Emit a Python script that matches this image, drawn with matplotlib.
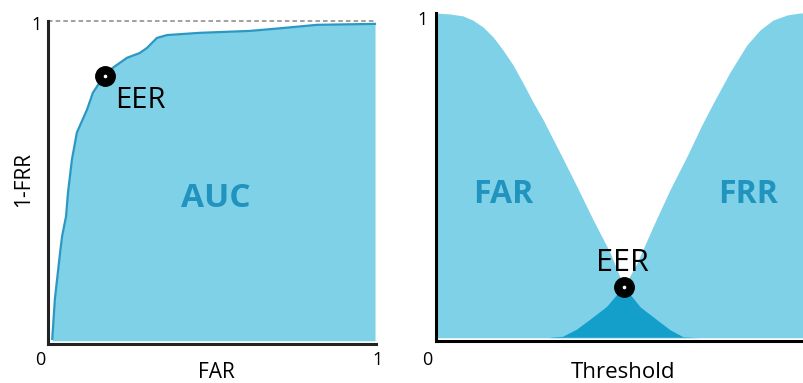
import matplotlib.pyplot as plt

plt.rcParams['font.family'] = ['Open Sans', 'DejaVu Sans']

# left panel: ROC curve, FAR vs 1-FRR
roc_far = [0.013, 0.021, 0.037, 0.043, 0.055, 0.061, 0.073, 0.088, 0.119, 0.137, 0.159, 0.174,
           0.198, 0.241, 0.280, 0.302, 0.332, 0.363, 0.463, 0.616, 0.716, 0.820, 0.997]
roc_tpr = [0.006, 0.131, 0.277, 0.327, 0.389, 0.464, 0.567, 0.651, 0.723, 0.776, 0.810, 0.829,
           0.854, 0.885, 0.900, 0.916, 0.947, 0.956, 0.963, 0.969, 0.978, 0.988, 0.991]
roc_eer = (0.174, 0.829)

# right panel: FAR and FRR against threshold
far_x = [0.0, 0.037, 0.072, 0.098, 0.125, 0.152, 0.178, 0.205, 0.231, 0.258, 0.285, 0.330,
         0.375, 0.418, 0.463, 0.489, 0.5, 0.543, 0.588, 0.622, 0.657, 0.70, 1.0]
far_y = [1.0, 0.997, 0.991, 0.978, 0.957, 0.926, 0.886, 0.840, 0.785, 0.726, 0.671, 0.569,
         0.465, 0.363, 0.262, 0.188, 0.157, 0.095, 0.055, 0.025, 0.003, 0.0, 0.0]
frr_x = [0.0, 0.30, 0.338, 0.375, 0.410, 0.455, 0.5, 0.535, 0.577, 0.622, 0.668,
         0.707, 0.737, 0.782, 0.827, 0.862, 0.896, 0.934, 0.968, 1.0]
frr_y = [0.0, 0.0, 0.003, 0.025, 0.055, 0.095, 0.157, 0.231, 0.342, 0.455, 0.560,
         0.655, 0.722, 0.818, 0.902, 0.948, 0.978, 0.994, 1.0, 1.0]
eer = (0.5, 0.157)

light = '#7ed1e6'
line_c = '#2a98c2'
dark = '#139fca'
lab_c = '#2193bf'

fig = plt.figure(figsize=(8.04, 3.83), dpi=100)

# ---- ROC ----
ax1 = fig.add_axes([48/804, 39/383, 328/804, 323/383])
ax1.fill_between(roc_far, roc_tpr, color=light, lw=0)
ax1.plot(roc_far, roc_tpr, color=line_c, lw=1.6)
ax1.plot([0, 1], [1, 1], ls=(0, (3, 2)), color='#888888', lw=1.1, clip_on=False)
ax1.plot(*roc_eer, 'o', ms=14, color='black', zorder=5)
ax1.plot(*roc_eer, 'o', ms=1.6, color='white', zorder=6)
ax1.set_xlim(0, 1)
ax1.set_ylim(-0.01, 1)
ax1.text(0.204, 0.728, 'EER', fontsize=21, va='baseline', ha='left')
ax1.text(0.512, 0.418, 'AUC', fontsize=24, fontweight='bold', color=lab_c, ha='center', va='baseline')
ax1.text(-0.034, 0.972, '1', fontsize=13, ha='center', va='baseline')
ax1.text(-0.024, -0.076, '0', fontsize=13, ha='center', va='baseline')
ax1.text(1.006, -0.076, '1', fontsize=13, ha='center', va='baseline')
ax1.text(0.512, -0.116, 'FAR', fontsize=15, ha='center', va='baseline')
ax1.text(-0.076, 0.503, '1-FRR', fontsize=15, ha='center', va='center', rotation=90)

# ---- FAR / FRR ----
ax2 = fig.add_axes([436/804, 42/383, 376/804, 328/383])
ax2.fill_between(far_x, far_y, color=light, lw=0)
frr_fill = ax2.fill_between(frr_x, frr_y, color=light, lw=0)
# overlap of the two areas in the darker blue
overlap = ax2.fill_between(far_x, far_y, color=dark, lw=0)
overlap.set_clip_path(frr_fill.get_paths()[0], ax2.transData)
ax2.plot(*eer, 'o', ms=14, color='black', zorder=5)
ax2.plot(*eer, 'o', ms=1.6, color='white', zorder=6)
ax2.set_xlim(0, 1)
ax2.set_ylim(-0.01, 1)
ax2.text(0.497, 0.206, 'EER', fontsize=22, ha='center', va='baseline')
ax2.text(0.178, 0.415, 'FAR', fontsize=23, fontweight='bold', color=lab_c, ha='center', va='baseline')
ax2.text(0.83, 0.415, 'FRR', fontsize=23, fontweight='bold', color=lab_c, ha='center', va='baseline')
ax2.text(-0.035, 0.963, '1', fontsize=13, ha='center', va='baseline')
ax2.text(-0.024, -0.084, '0', fontsize=13, ha='center', va='baseline')
ax2.text(0.497, -0.124, 'Threshold', fontsize=16, ha='center', va='baseline')

for ax, c in [(ax1, '#222222'), (ax2, 'black')]:
    ax.spines['top'].set_visible(False)
    ax.spines['right'].set_visible(False)
    ax.spines['left'].set_linewidth(2.2)
    ax.spines['bottom'].set_linewidth(2.2)
    ax.spines['left'].set_color(c)
    ax.spines['bottom'].set_color(c)
    ax.set_xticks([])
    ax.set_yticks([])
    ax.patch.set_alpha(0)

fig.savefig('out.png', dpi=100)
